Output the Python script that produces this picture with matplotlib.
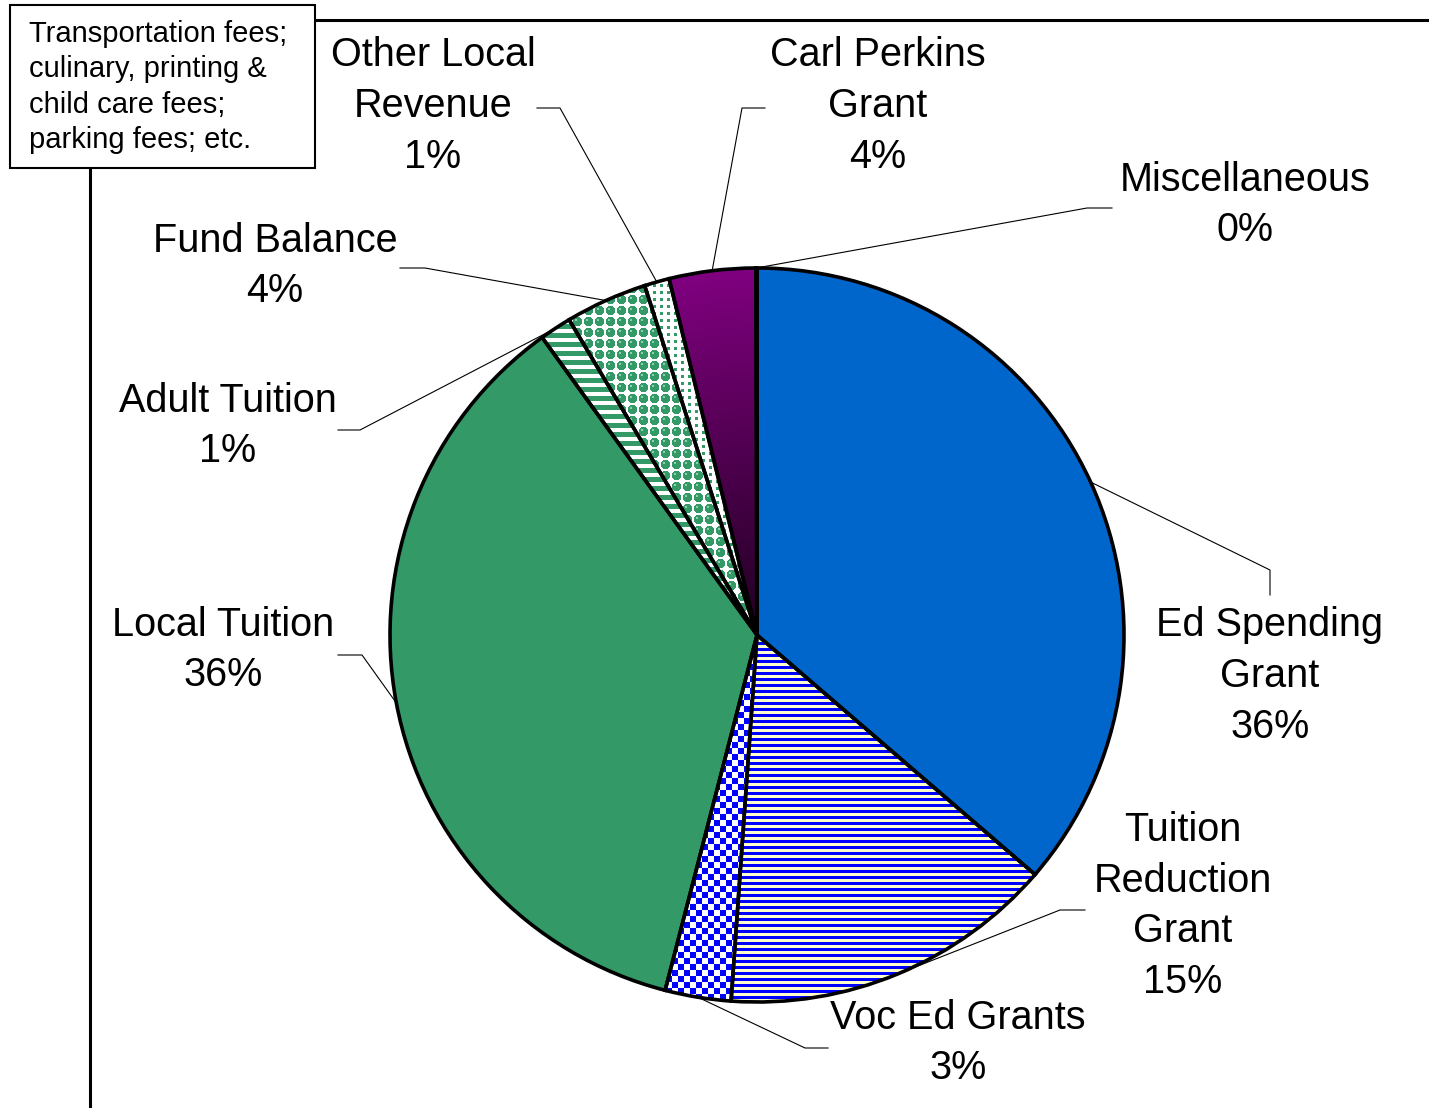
import numpy as np
import matplotlib.pyplot as plt
from matplotlib.patches import Wedge, Rectangle

# revenue shares (percent), clockwise from 12 o'clock
labels = ["Ed Spending\nGrant", "Tuition\nReduction\nGrant", "Voc Ed Grants",
          "Local Tuition", "Adult Tuition", "Fund Balance",
          "Other Local\nRevenue", "Carl Perkins\nGrant", "Miscellaneous"]
values = [36.3, 14.8, 2.9, 36.0, 1.4, 3.6, 1.1, 3.8, 0.05]
base_colors = ["#0066CC", "#FFFFCC", "#FFFFFF", "#339966", "#FFFFFF",
               "#FFFFFF", "#FFFFFF", "#800080", "#FFFFFF"]
note = "Transportation fees;\nculinary, printing &\nchild care fees;\nparking fees; etc."

W, H = 1429, 1108
def Y(py):
    return H - py

plt.rcParams['font.family'] = ['Liberation Sans', 'DejaVu Sans']

fig = plt.figure(figsize=(W / 100, H / 100), dpi=100)
ax = fig.add_axes([0, 0, 1, 1])
ax.axis('off')

cx, cy, r = 757, Y(635), 367
wedges, _ = ax.pie(values, colors=base_colors, startangle=90, counterclock=False,
                   center=(cx, cy), radius=r, wedgeprops=dict(linewidth=0))

# textures for the patterned slices
x0, x1, y0, y1 = cx - r, cx + r, cy - r, cy + r
X, Yg = np.meshgrid(np.arange(x0, x1) + 0.5, np.arange(y0, y1) + 0.5)

def rgb(c):
    c = c.lstrip('#')
    return np.array([int(c[i:i + 2], 16) / 255 for i in (0, 2, 4)])

def two_tone(mask, c_on, c_off):
    img = np.empty(mask.shape + (3,))
    img[mask] = rgb(c_on)
    img[~mask] = rgb(c_off)
    return img

blue, green, white = "#0000FF", "#339966", "#FFFFFF"
tex = {}
tex[1] = two_tone((np.floor(H - Yg) % 6) < 3, blue, "#FFFFCC")
tex[2] = two_tone(((np.floor(X / 6) + np.floor(Yg / 6)) % 2) == 0, blue, white)
tex[4] = two_tone((np.floor(H - Yg) % 9) < 4.5, green, white)
dx, dy = (X % 11) - 5.5, (Yg % 11) - 5.5
tex[5] = two_tone(dx ** 2 + dy ** 2 < 4.6 ** 2, green, white)
hl = (dx + 1.5) ** 2 + (dy - 1.5) ** 2 < 1.3 ** 2
tex[5][hl] = rgb("#8FD0AE")
ex, ey = (X % 7) - 3.5, (Yg % 7) - 3.5
tex[6] = two_tone(ex ** 2 + ey ** 2 < 1.6 ** 2, green, white)
t = np.clip(np.hypot(X - cx, Yg - cy) / r, 0, 1)[..., None]
tex[7] = rgb("#200020") * (1 - t) + rgb("#800080") * t

for i, img in tex.items():
    im = ax.imshow(img, extent=(x0, x1, y0, y1), origin='lower',
                   interpolation='nearest', zorder=2)
    im.set_clip_path(wedges[i])
ax.set_aspect('auto')
ax.set_xlim(0, W)
ax.set_ylim(0, H)

# black outlines on top
for w in wedges:
    ax.add_patch(Wedge(w.center, w.r, w.theta1, w.theta2, facecolor='none',
                       edgecolor='black', linewidth=2.6, zorder=3))

# labels and leader lines (label position, leader start points in pixels)
label_pos = [(1270, 676), (1183, 906), (958, 1043), (223, 650), (228, 426),
             (275, 266), (433, 106), (878, 106), (1245, 205)]
leader = [[(1270, 595), (1270, 570)], [(1085, 910), (1060, 910)],
          [(828, 1048), (805, 1048)], [(338, 655), (362, 655)],
          [(338, 430), (360, 430)], [(400, 268), (425, 268)],
          [(537, 108), (560, 108)], [(765, 108), (742, 108)],
          [(1112, 208), (1087, 208)]]

total = sum(values)
for w, lab, v, pos, ld in zip(wedges, labels, values, label_pos, leader):
    ax.text(pos[0], Y(pos[1]), f"{lab}\n{round(v / total * 100)}%",
            ha='center', va='center', fontsize=28.5, linespacing=1.42, zorder=5)
    mid = np.deg2rad((w.theta1 + w.theta2) / 2)
    ex_, ey_ = cx + r * np.cos(mid), cy + r * np.sin(mid)
    xs = [p[0] for p in ld] + [ex_]
    ys = [Y(p[1]) for p in ld] + [ey_]
    ax.plot(xs, ys, color='black', linewidth=0.8, zorder=4)

# plot area frame (partly hidden by the note box)
ax.plot([315, W], [Y(20), Y(20)], color='black', linewidth=2.2, zorder=4)
ax.plot([90, 90], [Y(168), 0], color='black', linewidth=2.2, zorder=4)

ax.add_patch(Rectangle((10, Y(168)), 305, 163, facecolor='white',
                       edgecolor='black', linewidth=1.5, zorder=5))
ax.text(29, Y(87), note, ha='left', va='center', fontsize=21,
        linespacing=1.32, zorder=6)

fig.savefig("out.png", dpi=100)
